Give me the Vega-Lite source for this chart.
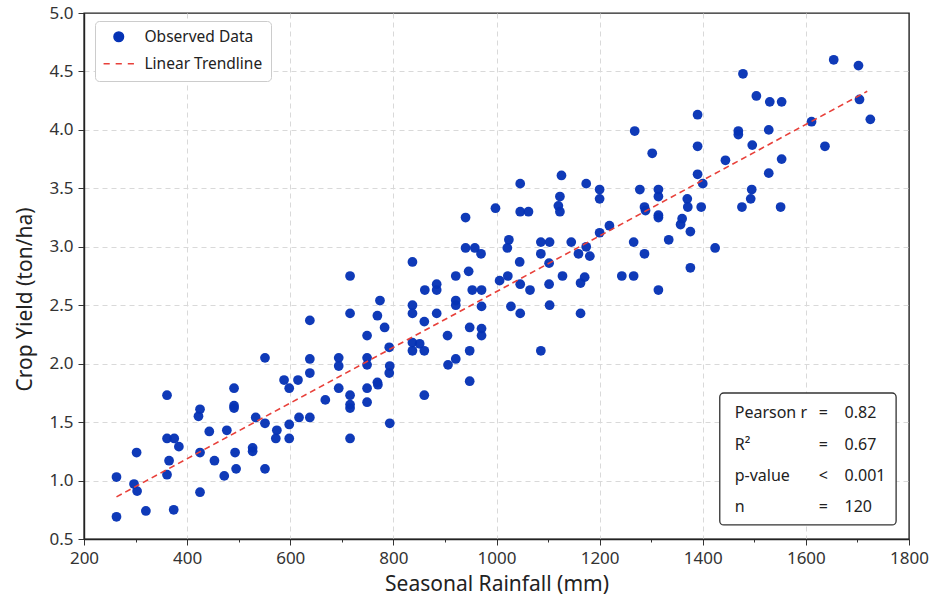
{
  "$schema": "https://vega.github.io/schema/vega-lite/v6.json",
  "width": 825,
  "height": 526,
  "autosize": {"type": "none"},
  "padding": {"left": 84, "top": 13, "right": 24, "bottom": 62},
  "background": "white",
  "config": {
    "font": "Noto Sans",
    "view": {"stroke": "#222222", "strokeWidth": 1.4},
    "axis": {
      "labelFont": "Noto Sans",
      "labelFontSize": 17,
      "labelColor": "#333333",
      "titleFont": "Noto Sans",
      "titleFontSize": 21,
      "titleFontWeight": "normal",
      "titleColor": "#222222",
      "domainColor": "#222222",
      "domainWidth": 1.4,
      "tickColor": "#333333",
      "tickWidth": 1,
      "gridColor": "#d9d9d9",
      "gridDash": [5, 4],
      "gridWidth": 1,
      "labelFlush": false,
      "labelOverlap": false
    }
  },
  "datasets": {
    "obs": [
      {"rainfall":263,"yield":1.03},{"rainfall":263,"yield":0.69},{"rainfall":302,"yield":1.24},{"rainfall":297,"yield":0.97},
      {"rainfall":303,"yield":0.91},{"rainfall":320,"yield":0.74},{"rainfall":361,"yield":1.73},{"rainfall":361,"yield":1.36},
      {"rainfall":375,"yield":1.36},{"rainfall":384,"yield":1.29},{"rainfall":365,"yield":1.17},{"rainfall":361,"yield":1.05},
      {"rainfall":374,"yield":0.75},{"rainfall":425,"yield":1.61},{"rainfall":422,"yield":1.55},{"rainfall":425,"yield":1.24},
      {"rainfall":425,"yield":0.90},{"rainfall":443,"yield":1.42},{"rainfall":453,"yield":1.17},{"rainfall":477,"yield":1.43},
      {"rainfall":472,"yield":1.04},{"rainfall":491,"yield":1.79},{"rainfall":491,"yield":1.64},{"rainfall":491,"yield":1.62},
      {"rainfall":493,"yield":1.24},{"rainfall":495,"yield":1.10},{"rainfall":527,"yield":1.28},{"rainfall":527,"yield":1.25},
      {"rainfall":533,"yield":1.54},{"rainfall":551,"yield":2.05},{"rainfall":551,"yield":1.49},{"rainfall":551,"yield":1.10},
      {"rainfall":574,"yield":1.43},{"rainfall":572,"yield":1.36},{"rainfall":588,"yield":1.86},{"rainfall":598,"yield":1.79},
      {"rainfall":598,"yield":1.48},{"rainfall":598,"yield":1.36},{"rainfall":615,"yield":1.86},{"rainfall":617,"yield":1.54},
      {"rainfall":638,"yield":2.37},{"rainfall":638,"yield":2.04},{"rainfall":638,"yield":1.92},{"rainfall":638,"yield":1.54},
      {"rainfall":668,"yield":1.69},{"rainfall":694,"yield":2.05},{"rainfall":694,"yield":1.98},{"rainfall":694,"yield":1.79},
      {"rainfall":716,"yield":2.75},{"rainfall":716,"yield":2.43},{"rainfall":716,"yield":1.73},{"rainfall":716,"yield":1.65},
      {"rainfall":716,"yield":1.62},{"rainfall":716,"yield":1.36},{"rainfall":749,"yield":2.24},{"rainfall":749,"yield":2.05},
      {"rainfall":749,"yield":1.99},{"rainfall":749,"yield":1.79},{"rainfall":749,"yield":1.67},{"rainfall":769,"yield":2.41},
      {"rainfall":769,"yield":1.84},{"rainfall":774,"yield":2.54},{"rainfall":1302,"yield":3.80},{"rainfall":1126,"yield":3.61},
      {"rainfall":1046,"yield":3.54},{"rainfall":1174,"yield":3.54},{"rainfall":1200,"yield":3.49},{"rainfall":1200,"yield":3.41},
      {"rainfall":1278,"yield":3.49},{"rainfall":1314,"yield":3.49},{"rainfall":1314,"yield":3.43},{"rainfall":1123,"yield":3.43},
      {"rainfall":998,"yield":3.33},{"rainfall":1287,"yield":3.34},{"rainfall":1289,"yield":3.31},{"rainfall":1120,"yield":3.35},
      {"rainfall":1123,"yield":3.30},{"rainfall":1046,"yield":3.30},{"rainfall":1062,"yield":3.30},{"rainfall":1314,"yield":3.27},
      {"rainfall":1314,"yield":3.25},{"rainfall":940,"yield":3.25},{"rainfall":1219,"yield":3.18},{"rainfall":1200,"yield":3.12},
      {"rainfall":1334,"yield":3.06},{"rainfall":940,"yield":2.99},{"rainfall":958,"yield":2.99},{"rainfall":970,"yield":2.94},
      {"rainfall":1024,"yield":3.06},{"rainfall":1021,"yield":2.99},{"rainfall":1086,"yield":3.04},{"rainfall":1103,"yield":3.04},
      {"rainfall":1145,"yield":3.04},{"rainfall":1266,"yield":3.04},{"rainfall":1174,"yield":3.00},{"rainfall":1181,"yield":2.92},
      {"rainfall":1159,"yield":2.94},{"rainfall":1287,"yield":2.94},{"rainfall":1086,"yield":2.94},{"rainfall":1045,"yield":2.87},
      {"rainfall":1102,"yield":2.86},{"rainfall":837,"yield":2.87},{"rainfall":946,"yield":2.79},{"rainfall":921,"yield":2.75},
      {"rainfall":1022,"yield":2.75},{"rainfall":1006,"yield":2.71},{"rainfall":1128,"yield":2.75},{"rainfall":1243,"yield":2.75},
      {"rainfall":1266,"yield":2.75},{"rainfall":884,"yield":2.68},{"rainfall":884,"yield":2.63},{"rainfall":861,"yield":2.63},
      {"rainfall":953,"yield":2.63},{"rainfall":971,"yield":2.63},{"rainfall":1046,"yield":2.68},{"rainfall":1065,"yield":2.63},
      {"rainfall":1102,"yield":2.68},{"rainfall":1163,"yield":2.69},{"rainfall":1171,"yield":2.74},{"rainfall":1314,"yield":2.63},
      {"rainfall":837,"yield":2.50},{"rainfall":837,"yield":2.43},{"rainfall":921,"yield":2.54},{"rainfall":921,"yield":2.50},
      {"rainfall":971,"yield":2.49},{"rainfall":1028,"yield":2.49},{"rainfall":1103,"yield":2.50},{"rainfall":884,"yield":2.43},
      {"rainfall":1046,"yield":2.43},{"rainfall":1163,"yield":2.43},{"rainfall":860,"yield":2.36},{"rainfall":783,"yield":2.31},
      {"rainfall":905,"yield":2.24},{"rainfall":948,"yield":2.31},{"rainfall":971,"yield":2.30},{"rainfall":971,"yield":2.24},
      {"rainfall":837,"yield":2.18},{"rainfall":851,"yield":2.17},{"rainfall":837,"yield":2.11},{"rainfall":860,"yield":2.11},
      {"rainfall":948,"yield":2.11},{"rainfall":1086,"yield":2.11},{"rainfall":792,"yield":2.14},{"rainfall":921,"yield":2.04},
      {"rainfall":906,"yield":1.99},{"rainfall":793,"yield":1.98},{"rainfall":792,"yield":1.92},{"rainfall":770,"yield":1.82},
      {"rainfall":948,"yield":1.85},{"rainfall":860,"yield":1.73},{"rainfall":793,"yield":1.49},{"rainfall":1654,"yield":4.60},
      {"rainfall":1702,"yield":4.55},{"rainfall":1478,"yield":4.48},{"rainfall":1504,"yield":4.29},{"rainfall":1530,"yield":4.24},
      {"rainfall":1553,"yield":4.24},{"rainfall":1704,"yield":4.26},{"rainfall":1390,"yield":4.13},{"rainfall":1611,"yield":4.07},
      {"rainfall":1725,"yield":4.09},{"rainfall":1469,"yield":3.99},{"rainfall":1469,"yield":3.96},{"rainfall":1528,"yield":4.00},
      {"rainfall":1390,"yield":3.86},{"rainfall":1496,"yield":3.87},{"rainfall":1637,"yield":3.86},{"rainfall":1444,"yield":3.74},
      {"rainfall":1553,"yield":3.75},{"rainfall":1390,"yield":3.62},{"rainfall":1400,"yield":3.54},{"rainfall":1528,"yield":3.63},
      {"rainfall":1370,"yield":3.41},{"rainfall":1371,"yield":3.34},{"rainfall":1397,"yield":3.34},{"rainfall":1495,"yield":3.49},
      {"rainfall":1493,"yield":3.41},{"rainfall":1476,"yield":3.34},{"rainfall":1551,"yield":3.34},{"rainfall":1360,"yield":3.24},
      {"rainfall":1357,"yield":3.19},{"rainfall":1376,"yield":3.13},{"rainfall":1424,"yield":2.99},{"rainfall":1376,"yield":2.82},
      {"rainfall":1268,"yield":3.99}
    ],
    "trend": [
      {"rainfall": 263, "yield": 0.86},
      {"rainfall": 1719, "yield": 4.33}
    ]
  },
  "layer": [
    {
      "data": {"name": "obs"},
      "mark": {"type": "point", "filled": true, "size": 95, "opacity": 0.96},
      "encoding": {
        "x": {
          "field": "rainfall", "type": "quantitative",
          "title": "Seasonal Rainfall (mm)",
          "scale": {"domain": [200, 1800], "nice": false, "zero": false},
          "axis": {
            "values": [200,300,400,500,600,700,800,900,1000,1100,1200,1300,1400,1500,1600,1700,1800],
            "format": "d",
            "labelExpr": "datum.value % 200 == 0 ? datum.label : ''",
            "tickSize": {"condition": {"test": "datum.value % 200 != 0", "value": 3}, "value": 6},
            "gridOpacity": {"condition": {"test": "datum.value % 200 != 0 || datum.value == 200 || datum.value == 1800", "value": 0}, "value": 1},
            "labelPadding": 5,
            "titlePadding": 7
          }
        },
        "y": {
          "field": "yield", "type": "quantitative",
          "title": "Crop Yield (ton/ha)",
          "scale": {"domain": [0.5, 5], "nice": false, "zero": false},
          "axis": {
            "values": [0.5,0.75,1,1.25,1.5,1.75,2,2.25,2.5,2.75,3,3.25,3.5,3.75,4,4.25,4.5,4.75,5],
            "format": ".1f",
            "labelExpr": "round(datum.value*2) == datum.value*2 ? datum.label : ''",
            "tickSize": {"condition": {"test": "round(datum.value*2) != datum.value*2", "value": 3}, "value": 6},
            "gridOpacity": {"condition": {"test": "round(datum.value*2) != datum.value*2 || datum.value == 0.5 || datum.value == 5", "value": 0}, "value": 1},
            "labelPadding": 5,
            "titlePadding": 13,
            "titleY": 286
          }
        },
        "color": {
          "datum": "Observed Data", "type": "nominal",
          "scale": {"domain": ["Observed Data", "Linear Trendline"], "range": ["#0532b5", "#e8403a"]},
          "legend": {
            "title": null, "orient": "none", "legendX": 11, "legendY": 8,
            "padding": 8, "fillColor": "white", "strokeColor": "#cccccc", "cornerRadius": 4,
            "labelFont": "Noto Sans", "labelFontSize": 15.5, "labelColor": "#222222",
            "rowPadding": 10, "symbolSize": 90, "symbolOffset": 8, "labelOffset": 18,
            "symbolOpacity": 1,
            "encode": {"symbols": {"update": {"stroke": {"scale": "color", "field": "value"}, "strokeWidth": {"value": 1.6}}}}
          }
        },
        "shape": {
          "datum": "Observed Data", "type": "nominal",
          "scale": {"domain": ["Observed Data", "Linear Trendline"], "range": ["circle", "M-3.2,0H-1.9M-0.65,0H0.65M1.9,0H3.2"]},
          "legend": {
            "title": null, "orient": "none", "legendX": 11, "legendY": 8,
            "padding": 8, "fillColor": "white", "strokeColor": "#cccccc", "cornerRadius": 4,
            "labelFont": "Noto Sans", "labelFontSize": 15.5, "labelColor": "#222222",
            "rowPadding": 10, "symbolSize": 90, "symbolOffset": 8, "labelOffset": 18,
            "symbolOpacity": 1,
            "encode": {"symbols": {"update": {"stroke": {"scale": "color", "field": "value"}, "strokeWidth": {"value": 1.6}}}}
          }
        }
      }
    },
    {
      "data": {"name": "trend"},
      "mark": {"type": "line", "color": "#e8403a", "strokeDash": [6, 4], "strokeWidth": 1.6},
      "encoding": {
        "x": {"field": "rainfall", "type": "quantitative"},
        "y": {"field": "yield", "type": "quantitative"}
      }
    },
    {
      "data": {"values": [{}]},
      "mark": {"type": "rect", "fill": "white", "stroke": "#333333", "strokeWidth": 1.3, "cornerRadius": 4},
      "encoding": {
        "x": {"datum": 1433, "type": "quantitative"},
        "x2": {"datum": 1775},
        "y": {"datum": 1.749, "type": "quantitative"},
        "y2": {"datum": 0.62}
      }
    },
    {
      "data": {"values": [{}]},
      "mark": {"type": "text", "align": "left", "baseline": "top", "fontSize": 16, "lineHeight": 31.3, "color": "#222222", "font": "Noto Sans"},
      "encoding": {
        "x": {"datum": 1462, "type": "quantitative"},
        "y": {"datum": 1.643, "type": "quantitative"},
        "text": {"value": ["Pearson r", "R²", "p-value", "n"]}
      }
    },
    {
      "data": {"values": [{}]},
      "mark": {"type": "text", "align": "center", "baseline": "top", "fontSize": 16, "lineHeight": 31.3, "color": "#222222", "font": "Noto Sans"},
      "encoding": {
        "x": {"datum": 1634, "type": "quantitative"},
        "y": {"datum": 1.643, "type": "quantitative"},
        "text": {"value": ["=", "=", "<", "="]}
      }
    },
    {
      "data": {"values": [{}]},
      "mark": {"type": "text", "align": "left", "baseline": "top", "fontSize": 16, "lineHeight": 31.3, "color": "#222222", "font": "Noto Sans"},
      "encoding": {
        "x": {"datum": 1675, "type": "quantitative"},
        "y": {"datum": 1.643, "type": "quantitative"},
        "text": {"value": ["0.82", "0.67", "0.001", "120"]}
      }
    }
  ]
}
